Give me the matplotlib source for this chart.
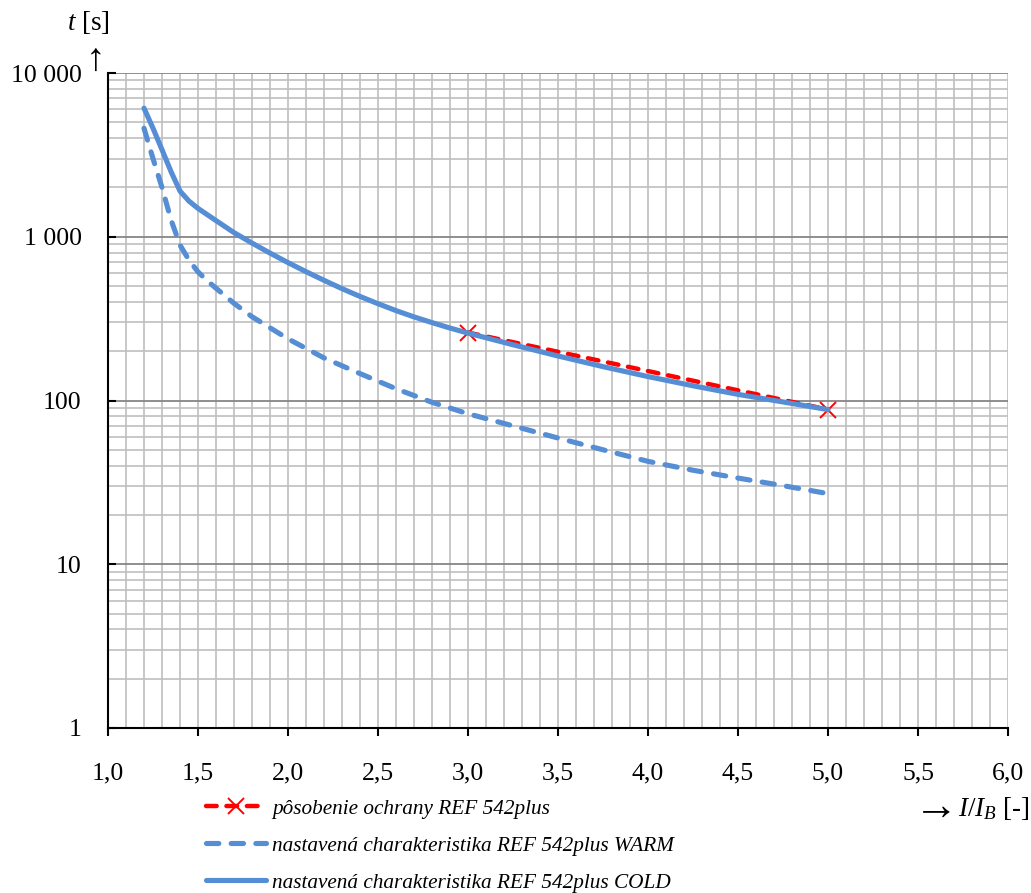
import matplotlib
matplotlib.use("Agg")
import matplotlib.pyplot as plt
from matplotlib.ticker import FixedLocator, FuncFormatter, MultipleLocator, NullFormatter

# ---- data ----
x_ref = [3.0, 5.0]
t_ref = [260, 88]

x_warm = [1.2, 1.25, 1.3, 1.35, 1.4, 1.45, 1.5, 1.55, 1.6, 1.7, 1.8, 1.9, 2.0, 2.2, 2.4,
          2.6, 2.8, 3.0, 3.25, 3.5, 3.75, 4.0, 4.25, 4.5, 4.75, 5.0]
t_warm = [4600, 3000, 2000, 1270, 890, 720, 610, 540, 485, 392, 325, 278, 238, 182, 146,
          118, 97.5, 83, 70, 59, 50, 42.5, 37.5, 33.6, 30.2, 27]

x_cold = [1.2, 1.25, 1.3, 1.35, 1.4, 1.45, 1.5, 1.6, 1.7, 1.8, 1.9, 2.0, 2.1, 2.2, 2.3,
          2.4, 2.5, 2.6, 2.7, 2.8, 2.9, 3.0, 3.25, 3.5, 3.75, 4.0, 4.25, 4.5, 4.75, 5.0]
t_cold = [6100, 4600, 3400, 2500, 1900, 1650, 1490, 1255, 1060, 915, 795, 695, 612, 542, 482,
          432, 390, 354, 324, 299, 277, 258, 219, 187, 161, 140, 123, 109, 98, 88]

labels = ["pôsobenie ochrany REF 542plus",
          "nastavená charakteristika REF 542plus WARM",
          "nastavená charakteristika REF 542plus COLD"]

x_ticks = [1.0, 1.5, 2.0, 2.5, 3.0, 3.5, 4.0, 4.5, 5.0, 5.5, 6.0]
y_ticks = [1, 10, 100, 1000, 10000]

# ---- style ----
plt.rcParams['font.family'] = ['Liberation Serif', 'DejaVu Serif']
plt.rcParams['mathtext.fontset'] = 'custom'
plt.rcParams['mathtext.rm'] = 'Liberation Serif'
plt.rcParams['mathtext.it'] = 'Liberation Serif:italic'

BLUE = '#558ED5'
RED = '#FF0000'
GRID_MINOR = '#BFBFBF'
GRID_MAJOR = '#868686'

fig = plt.figure(figsize=(10.31, 8.93), dpi=100)
ax = fig.add_axes([108/1031, 1-728/893, 900/1031, 655/893])

ax.set_yscale('log')
ax.set_xlim(1.0, 6.0)
ax.set_ylim(1, 10000)

# grid
ax.xaxis.set_minor_locator(MultipleLocator(0.1))
ax.yaxis.set_minor_locator(FixedLocator([m * 10**e for e in range(0, 4) for m in range(2, 10)]))
ax.grid(True, which='minor', axis='both', color=GRID_MINOR, lw=1.2, zorder=0)
ax.grid(True, which='major', axis='x', color=GRID_MINOR, lw=1.2, zorder=0)
ax.grid(True, which='major', axis='y', color=GRID_MAJOR, lw=1.3, zorder=0)
ax.set_axisbelow(True)

ax.xaxis.set_major_locator(FixedLocator(x_ticks))
ax.xaxis.set_major_formatter(FuncFormatter(lambda v, p: f"{v:.1f}".replace('.', ',')))
ax.yaxis.set_major_locator(FixedLocator(y_ticks))
ax.yaxis.set_major_formatter(FuncFormatter(lambda v, p: f"{int(round(v)):,}".replace(',', ' ')))
ax.xaxis.set_minor_formatter(NullFormatter())
ax.yaxis.set_minor_formatter(NullFormatter())

ax.tick_params(axis='x', which='major', direction='out', length=5.5, width=1.5,
               labelsize=18.5, pad=19, color='black')
ax.tick_params(axis='y', which='major', direction='in', length=5.5, width=1.5,
               labelsize=18.5, pad=19, color='black')
ax.tick_params(which='minor', length=0)

for s in ['top', 'right']:
    ax.spines[s].set_visible(False)
for s in ['left', 'bottom']:
    ax.spines[s].set_color('black')
    ax.spines[s].set_linewidth(1.5)

# series
l1, = ax.plot(x_ref, t_ref, color=RED, lw=3.2, dashes=(2.4, 2.2), dash_capstyle='round',
              marker='x', markersize=12, markeredgewidth=1.4, zorder=2)
l2, = ax.plot(x_warm, t_warm, color=BLUE, lw=3.7, dashes=(2.4, 2.4), dash_capstyle='round',
              zorder=3)
l3, = ax.plot(x_cold, t_cold, color=BLUE, lw=3.7, solid_capstyle='round', zorder=4)

for sp in ax.spines.values():
    sp.set_zorder(5)

leg = fig.legend([l1, l2, l3], labels, loc='upper left',
                 bbox_to_anchor=(206/1031, 1-799/893), frameon=False,
                 prop={'family': 'Liberation Serif', 'style': 'italic', 'size': 15.3},
                 handlelength=2.8, handletextpad=0.3, labelspacing=0.8,
                 borderpad=0, borderaxespad=0, numpoints=1)

# axis labels
fig.text(88/1031, 1-22/893, r"$t$ [s]", fontsize=19.5, ha='center', va='center')
fig.text(86/1031, 1-52/893, "→", fontsize=28, rotation=90, ha='center', va='center',
         family=['Liberation Serif', 'DejaVu Serif'])
fig.text(1030/1031, 1-809/893, r"$I/I_B$ [-]", fontsize=19.5, ha='right', va='center')
fig.text(958/1031, 1-808/893, "→", fontsize=32, ha='right', va='center',
         family=['Liberation Serif', 'DejaVu Serif'])

fig.savefig("out.png", dpi=100)
